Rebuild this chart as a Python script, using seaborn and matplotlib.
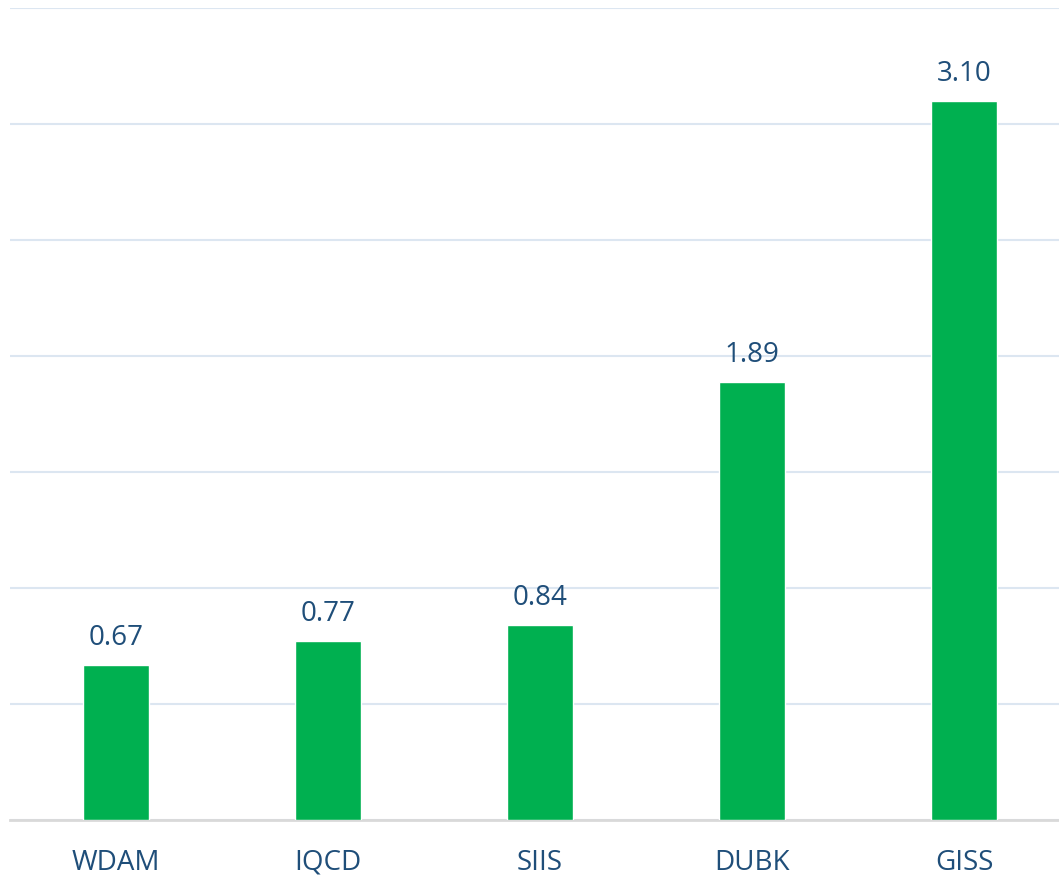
import matplotlib
matplotlib.use("Agg")
import matplotlib.pyplot as plt
import seaborn as sns
import pandas as pd

# chart data
tickers = ["WDAM", "IQCD", "SIIS", "DUBK", "GISS"]
values = [0.67, 0.77, 0.84, 1.89, 3.10]

GREEN = "#00B050"
TEXT = "#1F4E79"
GRID = "#DCE6F1"
BASE = "#D9D9D9"

sns.set_theme(style="white")
plt.rcParams["font.family"] = ["Open Sans", "DejaVu Sans"]

df = pd.DataFrame({"ticker": tickers, "value": values})

fig = plt.figure(figsize=(10.59, 8.79), dpi=100)
ax = fig.add_axes([10 / 1059, 1 - 821 / 879, 1 - 10 / 1059, (821 - 9) / 879])

sns.barplot(data=df, x="ticker", y="value", color=GREEN, width=0.31,
            saturation=1, ax=ax, zorder=3)

ax.set_ylim(0, 3.5)
ax.set_xlim(-0.5, 4.448)
ax.set_yticks([0.5 * i for i in range(8)])
ax.yaxis.grid(True, color=GRID, linewidth=1.5, zorder=0)
ax.set_axisbelow(True)
ax.tick_params(axis="y", left=False, labelleft=False)
ax.tick_params(axis="x", bottom=False, pad=14, labelsize=20, labelcolor=TEXT)
ax.set_xlabel("")
ax.set_ylabel("")
for s in ["top", "right", "left"]:
    ax.spines[s].set_visible(False)
ax.spines["bottom"].set_color(BASE)
ax.spines["bottom"].set_linewidth(2)

for i, v in enumerate(values):
    ax.annotate(f"{v:.2f}", (i, v), xytext=(0, 10), textcoords="offset points",
                ha="center", va="bottom", fontsize=20, color=TEXT)

fig.savefig("out.png", dpi=100)
